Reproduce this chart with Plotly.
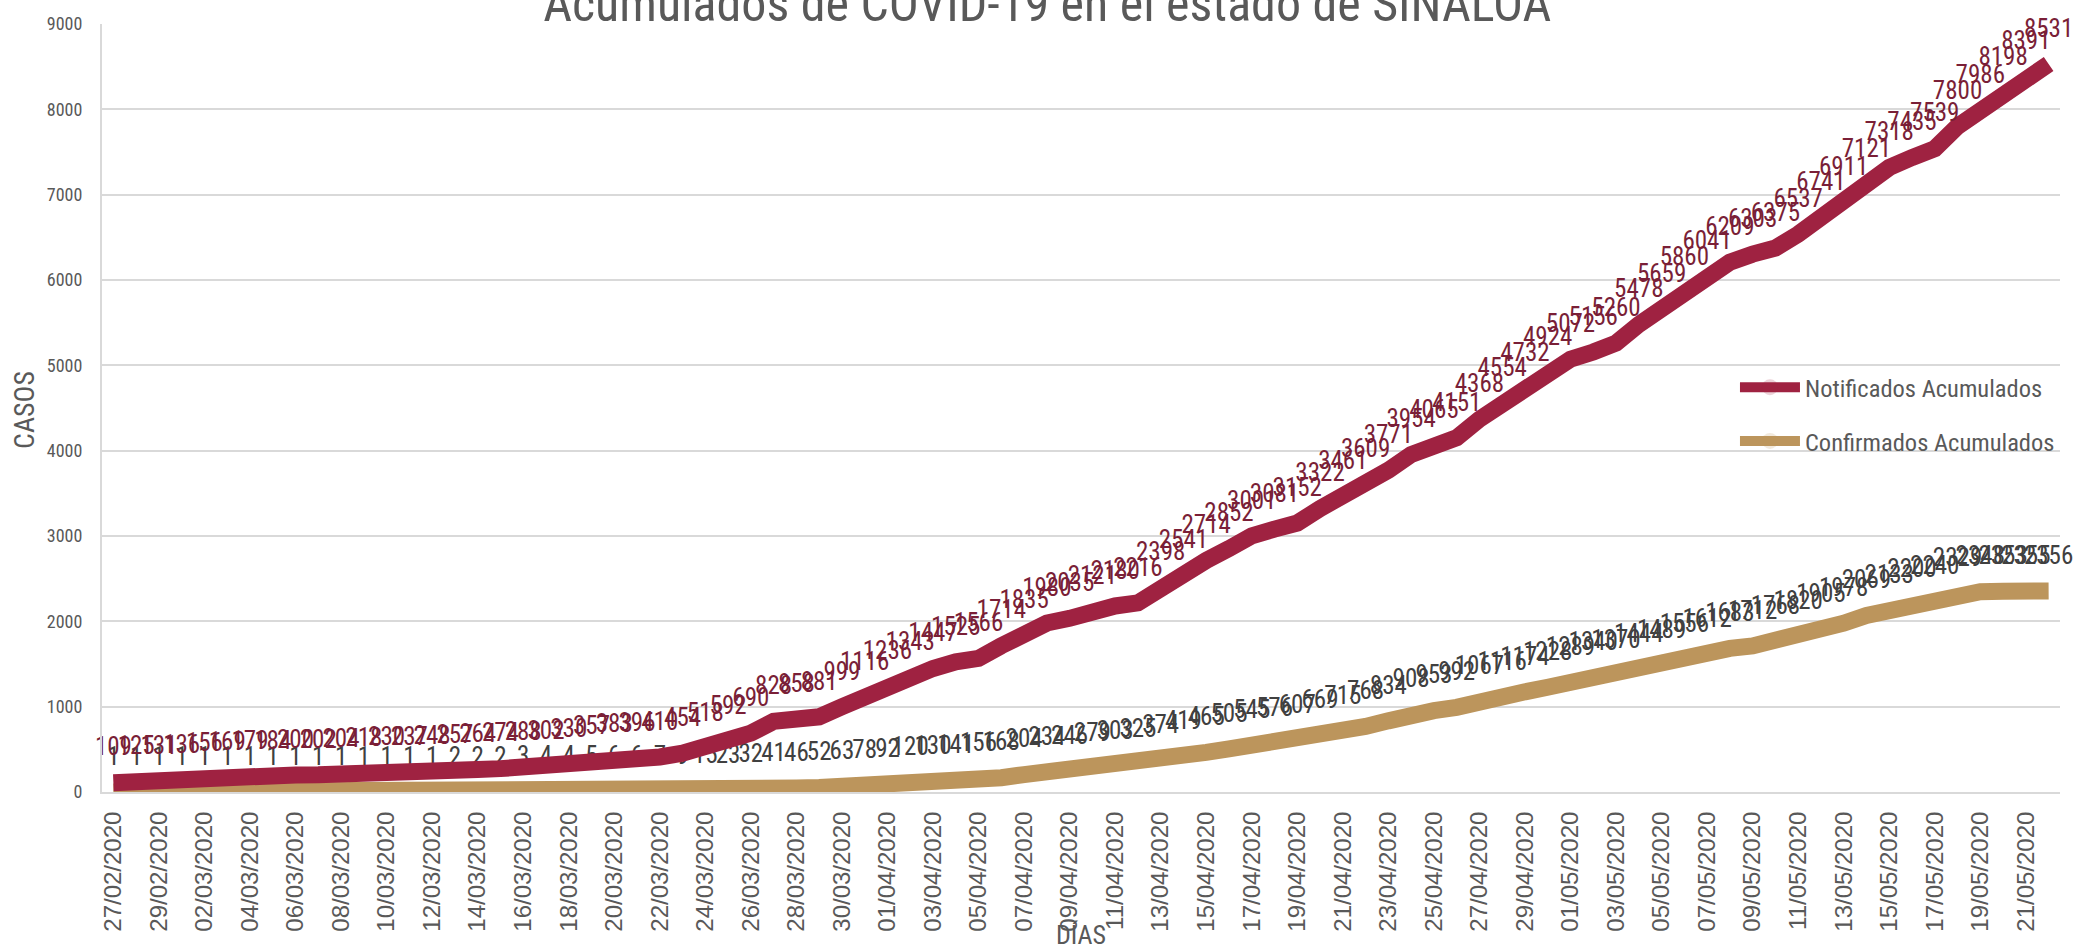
import plotly.graph_objects as go
import pandas as pd

# ---------------- data ----------------
fechas = [d.strftime("%d/%m/%Y") for d in pd.date_range("2020-02-27", "2020-05-22")]

notificados = [109, 125, 131, 136, 156, 169, 179, 184, 200, 202,
               204, 218, 230, 237, 248, 257, 264, 274, 288, 302,
               330, 357, 383, 396, 410, 454, 518, 592, 690, 828,
               858, 881, 999, 1116, 1236, 1343, 1447, 1525, 1566, 1714,
               1835, 1980, 2035, 2121, 2180, 2216, 2398, 2541, 2714, 2852,
               3001, 3081, 3152, 3322, 3461, 3609, 3771, 3954, 4065, 4151,
               4368, 4554, 4732, 4924, 5072, 5156, 5260, 5478, 5659, 5860,
               6041, 6209, 6303, 6375, 6537, 6741, 6911, 7121, 7318, 7435,
               7539, 7800, 7986, 8198, 8391, 8531]

confirmados = [1, 1, 1, 1, 1, 1, 1, 1, 1, 1,
               1, 1, 1, 1, 1, 2, 2, 2, 3, 4,
               4, 5, 6, 6, 7, 9, 15, 23, 32, 41,
               46, 52, 63, 78, 92, 120, 130, 141, 156, 168,
               204, 234, 246, 279, 303, 325, 374, 419, 465, 505,
               545, 576, 607, 669, 715, 768, 834, 908, 953, 992,
               1067, 1116, 1174, 1228, 1289, 1340, 1370, 1444, 1489, 1556,
               1612, 1683, 1712, 1768, 1820, 1905, 1978, 2069, 2133, 2200,
               2240, 2329, 2348, 2353, 2355, 2356]

tick_fechas = fechas[::2]
y_ticks = [0, 1000, 2000, 3000, 4000, 5000, 6000, 7000, 8000, 9000]

titulo = "Acumulados de COVID-19 en el estado de SINALOA"
nombre_notif = "Notificados Acumulados"
nombre_conf = "Confirmados Acumulados"

# ---------------- style ----------------
NARROW = "Liberation Sans Narrow, Arial Narrow, Roboto Condensed, Liberation Sans, sans-serif"
COL_NOTIF = "#9f2241"
COL_CONF = "#bc955c"
GRAY = "#595959"
GRID = "#d9d9d9"

fig = go.Figure()

fig.add_trace(go.Scatter(
    x=fechas, y=confirmados, name=nombre_conf,
    mode="lines+markers+text",
    line=dict(color=COL_CONF, width=17),
    marker=dict(size=32, opacity=0, color=COL_CONF),
    text=[str(v) for v in confirmados],
    textposition="top center",
    textfont=dict(family=NARROW, size=25, color="#404040"),
    cliponaxis=False,
    hoverinfo="skip",
    legend="legend2",
))

fig.add_trace(go.Scatter(
    x=fechas, y=notificados, name=nombre_notif,
    mode="lines+markers+text",
    line=dict(color=COL_NOTIF, width=17),
    marker=dict(size=32, opacity=0, color=COL_NOTIF),
    text=[str(v) for v in notificados],
    textposition="top center",
    textfont=dict(family=NARROW, size=25, color="#7a1f37"),
    cliponaxis=False,
    hoverinfo="skip",
    legend="legend",
))

fig.update_layout(
    width=2078, height=946,
    paper_bgcolor="white", plot_bgcolor="white",
    margin=dict(l=102, r=18, t=24, b=154, autoexpand=False),
    title=dict(text=titulo, x=0.504, xanchor="center",
               y=0.978, yanchor="bottom", yref="container",
               font=dict(family=NARROW, size=50, color=GRAY)),
    showlegend=True,
    legend=dict(x=0.834, y=0.527, xanchor="left", yanchor="middle",
                bgcolor="rgba(0,0,0,0)", itemwidth=60,
                font=dict(family=NARROW, size=24.5, color=GRAY)),
    legend2=dict(x=0.834, y=0.457, xanchor="left", yanchor="middle",
                 bgcolor="rgba(0,0,0,0)", itemwidth=60,
                 font=dict(family=NARROW, size=24.5, color=GRAY)),
    xaxis=dict(
        type="category", automargin=False,
        categoryorder="array", categoryarray=fechas,
        range=[-0.5, len(fechas) - 0.5],
        tickmode="array", tickvals=tick_fechas, ticktext=tick_fechas,
        tickangle=-90,
        tickfont=dict(family="Liberation Sans, Arial, sans-serif", size=24, color=GRAY),
        showgrid=False, showline=True, linecolor=GRID, linewidth=2,
        ticks="", ticklabelstandoff=8,
        zeroline=False,
    ),
    yaxis=dict(
        range=[0, 9000], automargin=False,
        tickmode="array", tickvals=y_ticks,
        tickfont=dict(family=NARROW, size=18, color=GRAY),
        showgrid=True, gridcolor=GRID, gridwidth=2,
        showline=True, linecolor=GRID, linewidth=2,
        zeroline=False, ticks="", ticklabelstandoff=14,
    ),
    annotations=[
        dict(text="CASOS", xref="paper", yref="paper", x=-0.0395, y=0.497,
             xanchor="center", yanchor="middle", textangle=-90, showarrow=False,
             font=dict(family=NARROW, size=28, color=GRAY)),
        dict(text="DÍAS", xref="paper", yref="paper", x=0.5, y=-0.186,
             xanchor="center", yanchor="middle", showarrow=False,
             font=dict(family=NARROW, size=26, color=GRAY)),
    ],
)

fig.write_html(
    "out.html",
    config={"displayModeBar": False},
    post_script="document.body.style.margin='0';document.body.style.overflow='hidden';",
)
